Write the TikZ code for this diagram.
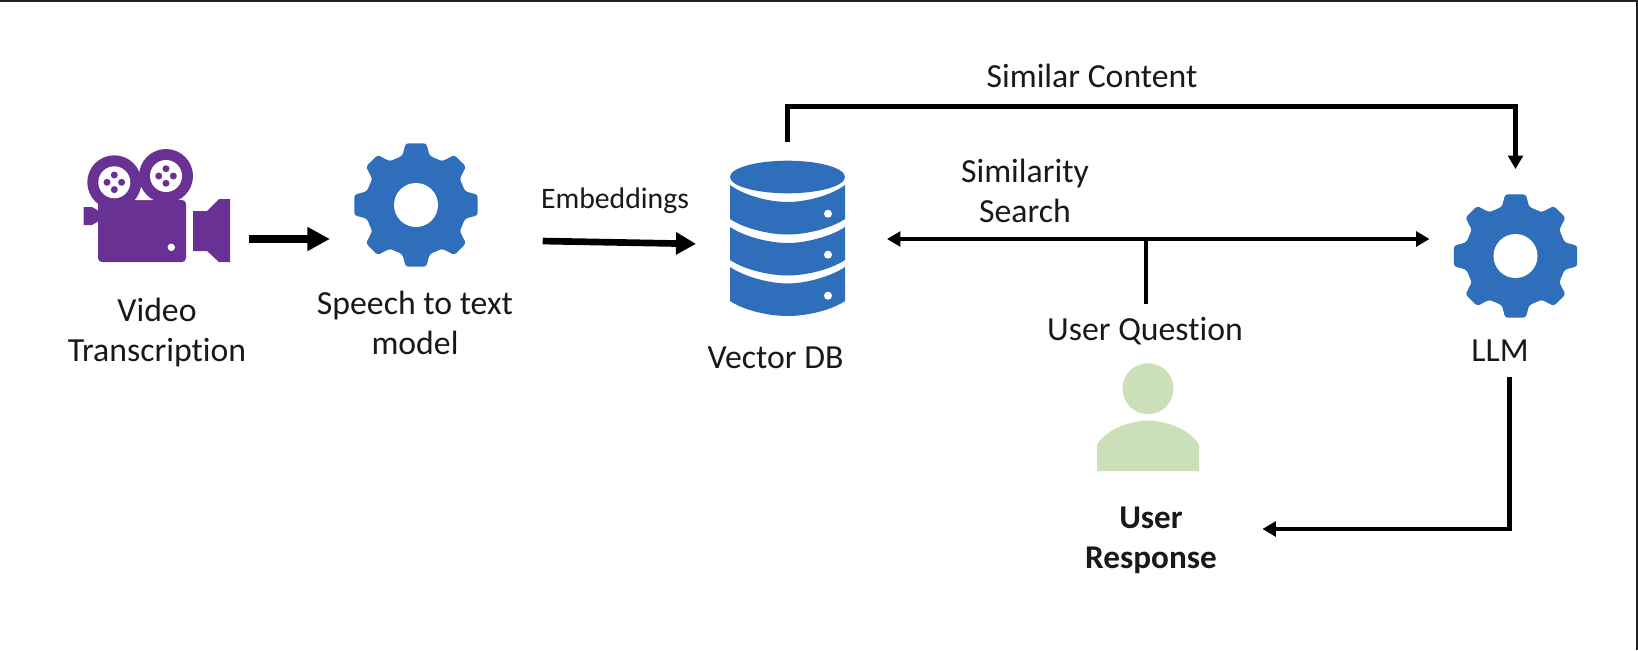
\documentclass[tikz,border=0pt]{standalone}
\usepackage{fontspec}
\setmainfont[Ligatures=NoCommon]{Carlito}
\usetikzlibrary{arrows.meta,calc}
\definecolor{gearblue}{HTML}{2F6EBA}
\definecolor{campurple}{HTML}{6A3195}
\definecolor{usergreen}{HTML}{CBDFB9}
\definecolor{framedark}{HTML}{222222}
\tikzset{
  lbl/.style={inner sep=0pt,align=center,text=black!90,font=\fontsize{25.3}{30}\selectfont},
  lblsmall/.style={inner sep=0pt,align=center,text=black!90,font=\fontsize{22.3}{27}\selectfont},
  icon/.style={inner sep=0pt,outer sep=0pt,draw=none},
  fatarrow/.style={line width=6pt,-{Triangle[length=17pt,width=17pt]}},
  midarrow/.style={line width=5pt,-{Triangle[length=15pt,width=16pt]}},
  linkline/.style={line width=3.6pt},
  linkarrow/.style={line width=3.4pt,-{Triangle[length=10pt,width=11pt]}},
  bothlink/.style={line width=3.4pt,{Triangle[length=10pt,width=11pt]}-{Triangle[length=10pt,width=11pt]}}
}
\newcommand{\geariconat}[2]{%
  \begin{scope}[shift={(#1,#2)}]
    \fill[gearblue,rounded corners=2pt,even odd rule] (-15.5:51)
      \foreach \a/\r in {-9.5/62.5,9.5/62.5,15.5/51,31/51,37.5/63,52.5/63,59/51,74.5/51,80.5/62.5,99.5/62.5,105.5/51,121/51,127.5/63,142.5/63,149/51,164.5/51,170.5/62.5,189.5/62.5,195.5/51,211/51,217.5/63,232.5/63,239/51,254.5/51,260.5/62.5,279.5/62.5,285.5/51,301/51,307.5/63,322.5/63,329/51}{ -- (\a:\r) } -- cycle;
    \fill[white] (0,0) circle[radius=22];
  \end{scope}}
\newcommand{\reelat}[2]{%
  \begin{scope}[shift={(#1,#2)}]
    \fill[campurple] (0,0) circle[radius=27];
    \fill[white] (0,0) circle[radius=16];
    \fill[campurple] (7.3,0) circle[radius=3.5] (-7.3,0) circle[radius=3.5] (0,7.3) circle[radius=3.5] (0,-7.3) circle[radius=3.5];
  \end{scope}}
\begin{document}
\begin{tikzpicture}[x=0.75pt,y=-0.75pt]
\useasboundingbox (0,0) rectangle (1638,650);
\fill[white] (0,0) rectangle (1638,650);
\fill[framedark] (0,0) rectangle (1638,2);
\fill[framedark] (1636,0) rectangle (1638,650);

% icon anchors
\node[icon,minimum width=110.25pt,minimum height=60pt] (camera) at (157,220) {};
\node[icon,minimum width=93pt,minimum height=93pt] (geara) at (416,205) {};
\node[icon,minimum width=86.25pt,minimum height=116pt] (db) at (787.5,238) {};
\node[icon,minimum width=93pt,minimum height=93pt] (gearb) at (1515.5,256) {};
\node[icon,minimum width=76.5pt,minimum height=93pt] (person) at (1148,417) {};

% camera
\fill[campurple,rounded corners=3pt] (98,200) rectangle (186,262);
\fill[campurple] (83.5,207) -- (92,207) -- (99,211) -- (99,221) -- (92,225) -- (83.5,225) -- cycle;
\fill[campurple] (193,211) -- (207,211) -- (219,199) -- (230,199) -- (230,262) -- (219,262) -- (207,251) -- (193,251) -- cycle;
\fill[white] (171.3,247.3) circle[radius=3.7];
\reelat{114.3}{182.3}
\reelat{166}{176}
\fill[white] (137,200) -- (141,190) -- (151,200) -- cycle;

% gears
\geariconat{416}{205}
\geariconat{1515.5}{256}

% database
\begin{scope}[gearblue]
  \fill (787.5,177) ellipse[x radius=57.5,y radius=16.3];
  \fill (730,185) .. controls (745,196) and (770,202) .. (787.5,202) .. controls (805,202) and (830,196) .. (845,185) -- (845,219) .. controls (830,229) and (805,234.5) .. (787.5,234.5) .. controls (770,234.5) and (745,229) .. (730,219) -- cycle;
  \fill (730,227) .. controls (745,237) and (770,243) .. (787.5,243) .. controls (805,243) and (830,237) .. (845,227) -- (845,260) .. controls (830,270) and (805,275.5) .. (787.5,275.5) .. controls (770,275.5) and (745,270) .. (730,260) -- cycle;
  \fill (730,267) .. controls (745,277) and (770,283.5) .. (787.5,283.5) .. controls (805,283.5) and (830,277) .. (845,267) -- (845,301) .. controls (830,311) and (805,316) .. (787.5,316) .. controls (770,316) and (745,311) .. (730,301) -- cycle;
\end{scope}
\fill[white] (828,213.7) circle[radius=4] (828,254.7) circle[radius=4] (828,295.7) circle[radius=4];

% person
\fill[usergreen] (1148,388.7) circle[radius=25.5];
\fill[usergreen] (1097,471) -- (1097,445) .. controls (1103,433) and (1125,420.7) .. (1148,420.7) .. controls (1171,420.7) and (1193,433) .. (1199,445) -- (1199,471) -- cycle;

% labels
\node[lbl] (video) at (157,333) {Video\\Transcription};
\node[lbl] (speech) at (415,323) {Speech to text\\model};
\node[lblsmall] (emb) at (615,201) {Embeddings};
\node[lbl] (vdb) at (775.5,358) {Vector DB};
\node[lbl] (simc) at (1092,76) {Similar Content};
\node[lbl] (sims) at (1025,191) {Similarity\\Search};
\node[lbl] (uq) at (1145,331) {User Question};
\node[lbl] (llm) at (1500,351) {LLM};
\node[lbl,font=\fontsize{24.9}{30}\selectfont\bfseries] (resp) at (1151,540) {User\\Response};

% connector waypoints
\coordinate (ytop) at (0,106.5);
\coordinate (ybus) at (0,239);
\coordinate (rcorner) at (1509.5,529);
\coordinate (junction) at (1146,239);

% connectors
\draw[fatarrow,shorten <=13.5pt,shorten >=18pt] (camera.east |- ybus) -- (geara.west |- ybus);
\draw[midarrow,shorten <=1.5pt,shorten >=25.5pt] (emb.west |- 0,241) -- (db.west |- 0,244.5);
\draw[linkarrow,shorten <=14.25pt,shorten >=18.75pt] (db.north) -- (db.north |- ytop) -- (gearb.north |- ytop) -- (gearb.north);
\draw[bothlink,shorten <=31.5pt,shorten >=18pt] (db.east |- ybus) -- (gearb.west |- ybus);
\draw[linkline,shorten >=10pt] (junction) -- (junction |- uq.north);
\draw[linkarrow,shorten <=11pt,shorten >=34pt] (llm.south -| rcorner) -- (rcorner) -- (resp.east |- rcorner);
\end{tikzpicture}
\end{document}
